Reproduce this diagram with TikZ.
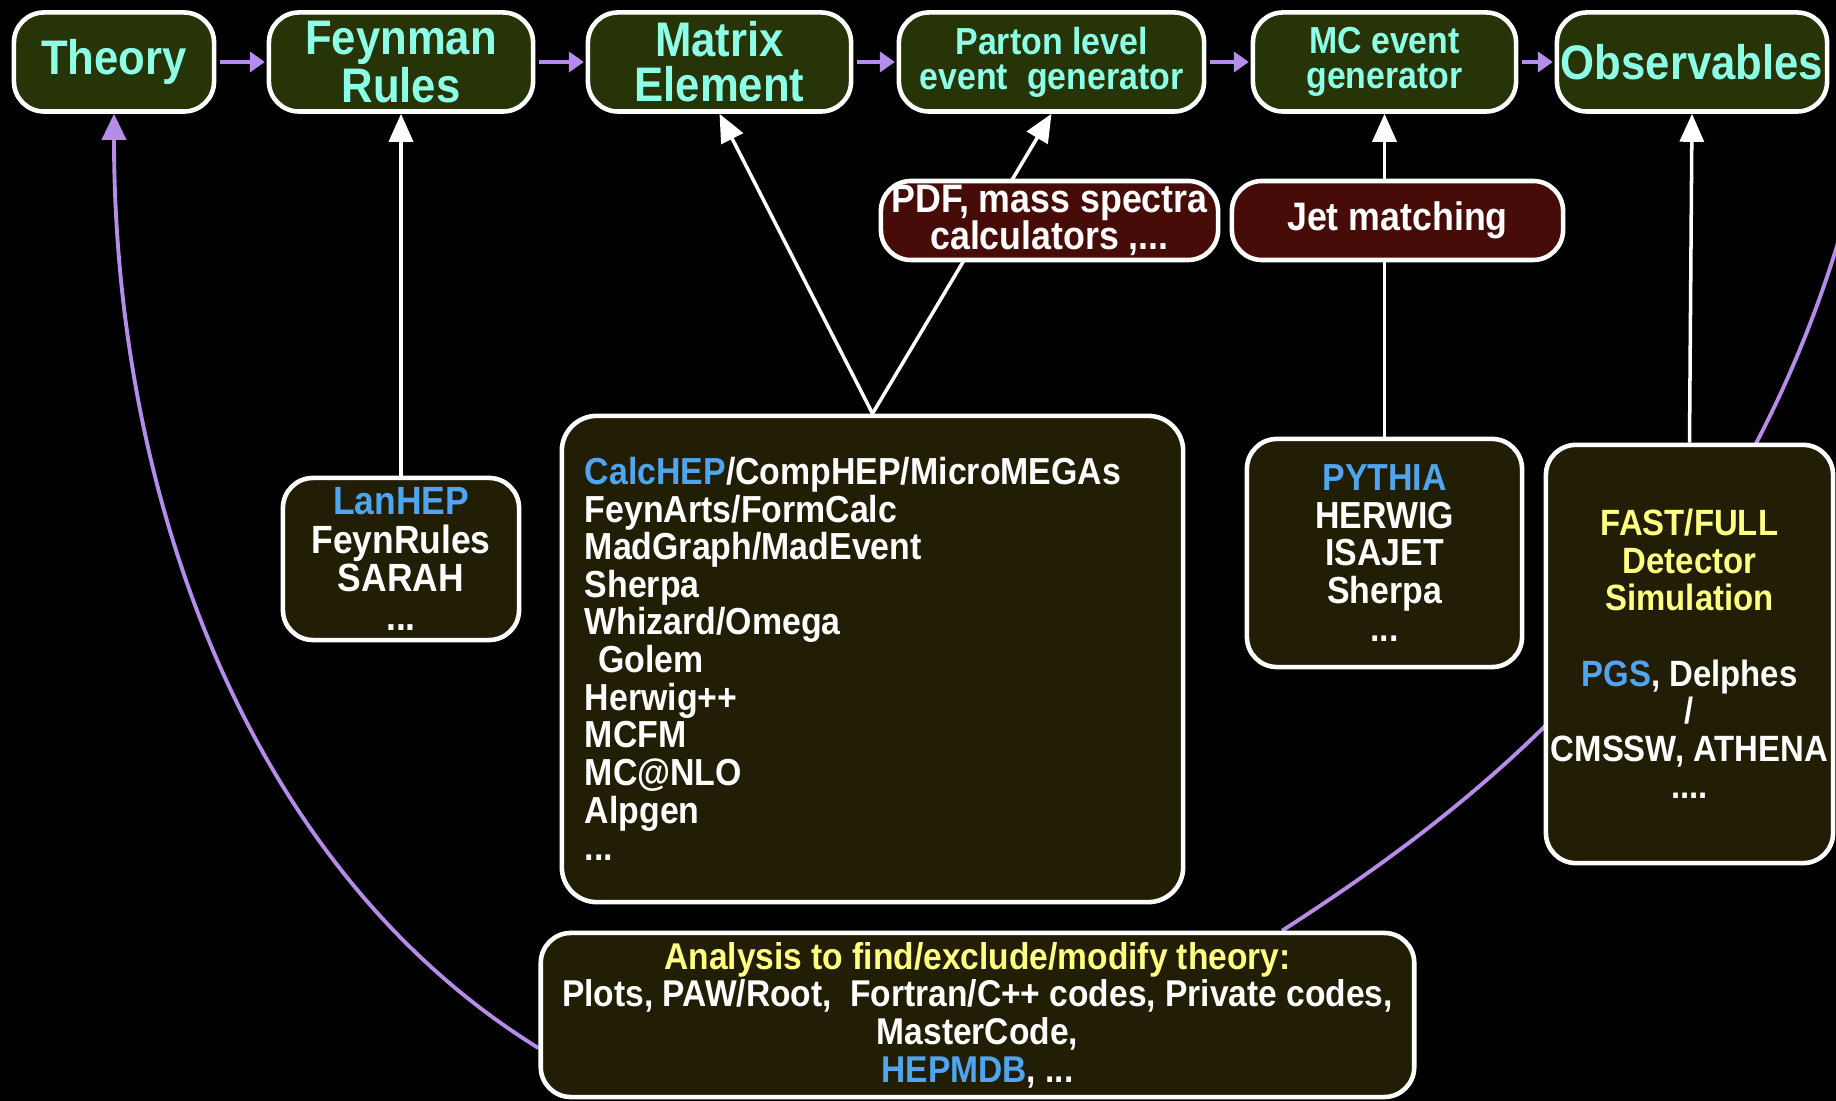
\documentclass[tikz,border=0pt]{standalone}
\usepackage{fontspec}
\setmainfont{Liberation Sans}[FakeStretch=0.9]
\usetikzlibrary{arrows.meta}
\definecolor{titlefill}{RGB}{38,52,8}
\definecolor{listfill}{RGB}{34,30,6}
\definecolor{redfill}{RGB}{72,12,8}
\definecolor{cyantxt}{RGB}{140,255,230}
\definecolor{bluetxt}{RGB}{80,165,240}
\definecolor{yellowtxt}{RGB}{255,255,130}
\definecolor{purp}{RGB}{182,140,234}
\pgfdeclarelayer{back}
\pgfdeclarelayer{links}
\pgfsetlayers{back,links,main}
\tikzset{
  box/.style={draw=white, line width=1.3pt, rounded corners=0.3cm, inner sep=0pt, align=center, text=white},
  titlebox/.style={box, fill=titlefill, text=cyantxt, font=\fontsize{13.8}{12.7}\selectfont\bfseries, minimum height=0.99cm},
  subtitle/.style={font=\fontsize{10.7}{10}\selectfont\bfseries},
  redbox/.style={box, fill=redfill, font=\fontsize{11.3}{10.7}\selectfont\bfseries, minimum height=0.79cm},
  listbox/.style={box, fill=listfill, font=\fontsize{10.7}{10.7}\selectfont\bfseries},
  wline/.style={white, line width=1pt, -{Triangle[width=0.24cm,length=0.28cm]}},
  plink/.style={purp, line width=1.1pt},
  pstep/.style={purp, line width=1.1pt, -{Triangle[width=0.2cm,length=0.15cm]}, shorten <=1pt, shorten >=0.5pt}
}
\begin{document}
\begin{tikzpicture}[x=0.01cm,y=-0.01cm]
\begin{pgfonlayer}{back}
\fill[black] (0,0) rectangle (1836,1101);
\end{pgfonlayer}
\useasboundingbox (0,0) rectangle (1836,1101);

% top row
\node[titlebox, minimum width=2.00cm] (theory) at (114,62) {Theory};
\node[titlebox, minimum width=2.64cm] (feyn) at (401,62) {Feynman\\Rules};
\node[titlebox, minimum width=2.63cm] (matrix) at (719.5,62) {Matrix\\Element};
\node[titlebox, subtitle, minimum width=3.05cm] (parton) at (1051.5,62) {Parton level\\event\ \ generator};
\node[titlebox, subtitle, minimum width=2.63cm] (mc) at (1384.5,62) {MC event\\generator};
\node[titlebox, minimum width=2.70cm] (obs) at (1692,62) {Observables};

% second row
\node[redbox, minimum width=3.37cm] (pdf) at (1049.5,220.5) {PDF, mass spectra\\calculators ,...};
\node[redbox, minimum width=3.31cm] (jet) at (1397.5,220.5) {Jet matching};

% tool boxes
\node[listbox, font=\fontsize{11.2}{11}\selectfont\bfseries, minimum width=2.36cm, minimum height=1.62cm] (lan) at (401,559)
  {\textcolor{bluetxt}{LanHEP}\\FeynRules\\SARAH\\...};
\node[listbox, rounded corners=0.35cm, minimum width=6.21cm, minimum height=4.86cm, align=left, text width=5.75cm] (codes) at (872.5,659)
  {\textcolor{bluetxt}{CalcHEP}/CompHEP/MicroMEGAs\\
   FeynArts/FormCalc\\
   MadGraph/MadEvent\\
   Sherpa\\
   Whizard/Omega\\
   \hspace*{0.35em}Golem\\
   Herwig++\\
   MCFM\\
   MC@NLO\\
   Alpgen\\
   ...};
\node[listbox, minimum width=2.75cm, minimum height=2.28cm] (pythia) at (1384.5,553)
  {\textcolor{bluetxt}{PYTHIA}\\HERWIG\\ISAJET\\Sherpa\\...};
\node[listbox, font=\fontsize{10.4}{10.7}\selectfont\bfseries, minimum width=2.87cm, minimum height=4.18cm] (fast) at (1689.5,654)
  {\textcolor{yellowtxt}{FAST/FULL}\\
   \textcolor{yellowtxt}{Detector}\\
   \textcolor{yellowtxt}{Simulation}\\[10.7pt]
   \textcolor{bluetxt}{PGS}, Delphes\\
   /\\
   CMSSW, ATHENA\\
   ....};
\node[listbox, font=\fontsize{10.6}{10.7}\selectfont\bfseries, minimum width=8.73cm, minimum height=1.64cm] (analysis) at (977.5,1015)
  {\textcolor{yellowtxt}{Analysis to find/exclude/modify theory:}\\
   Plots, PAW/Root,\ \ Fortran/C++ codes, Private codes,\\
   MasterCode,\\
   \textcolor{bluetxt}{HEPMDB}, ...};

\begin{pgfonlayer}{links}
\begin{scope}
\clip (0,0) rectangle (1836,1101);
% chain arrows
\draw[pstep] (theory) -- (feyn);
\draw[pstep] (feyn) -- (matrix);
\draw[pstep] (matrix) -- (parton);
\draw[pstep] (parton) -- (mc);
\draw[pstep] (mc) -- (obs);
% white arrows
\draw[wline] (lan.north) -- (feyn.south);
\draw[wline] (codes.north) -- (matrix.south);
\draw[wline] (codes.north) -- (parton.south);
\draw[wline] (pythia.north) -- (mc.south);
\draw[wline] (fast.north) -- (obs.south);
% purple feedback curves
\draw[plink, -{Triangle[width=0.24cm,length=0.26cm]}] ([yshift=-0.33cm]analysis.west) .. controls (250,870) and (114,500) .. (theory.south);
\coordinate (offright) at (1880,60);
\draw[plink] ([xshift=3.045cm]analysis.north) .. controls (1500,790) and (1800,560) .. (offright);
\end{scope}
\end{pgfonlayer}
\end{tikzpicture}
\end{document}
